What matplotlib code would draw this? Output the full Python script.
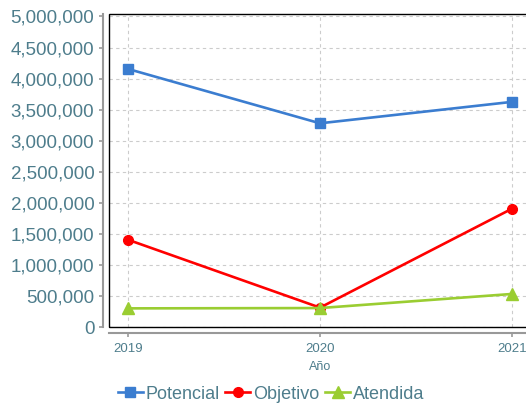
import numpy as np
import matplotlib.pyplot as plt
from matplotlib.patches import Rectangle
from matplotlib.ticker import FuncFormatter

plt.rcParams['font.family'] = ['Liberation Sans', 'DejaVu Sans']

anios = [2019, 2020, 2021]
potencial = [4155000, 3280000, 3625000]
objetivo = [1405000, 312000, 1905000]
atendida = [300000, 305000, 532000]

txt = '#4e7d8c'

fig = plt.figure(figsize=(5.26, 4.04), dpi=100)
ax = fig.add_axes([109/526, 77/404, 422/526, 313/404])

ax.plot(anios, potencial, color='#3b7dd0', lw=1.9, marker='s', ms=7, label='Potencial', clip_on=False, zorder=3)
ax.plot(anios, objetivo, color='#ff0000', lw=1.9, marker='o', ms=7, label='Objetivo', clip_on=False, zorder=3)
ax.plot(anios, atendida, color='#9acd32', lw=1.9, marker='^', ms=8, label='Atendida', clip_on=False, zorder=3)

ax.set_xlim(2019 - 19/192, 2021 + 19/192)
ax.set_ylim(0, 5040000)
ax.set_yticks(np.arange(0, 5000001, 500000))
ax.set_xticks(anios)
ax.yaxis.set_major_formatter(FuncFormatter(lambda v, p: f'{int(v):,}'))

ax.grid(True, color='#cccccc', lw=0.8, ls=(0, (3, 3)))
ax.set_axisbelow(True)

# marco negro del area de trazado
ax.add_patch(Rectangle((0, 0), 1, 1, transform=ax.transAxes, fill=False,
                       ec='black', lw=1.0, clip_on=False, zorder=4))
for s in ['top', 'right']:
    ax.spines[s].set_visible(False)
for s in ['left', 'bottom']:
    ax.spines[s].set_position(('outward', 4.5))
    ax.spines[s].set_color('#999999')
    ax.spines[s].set_linewidth(1.5)

ax.tick_params(axis='y', colors='#999999', labelcolor=txt, labelsize=13.5, length=3, width=1.2, pad=3)
ax.tick_params(axis='x', colors='#999999', labelcolor=txt, labelsize=9.5, length=3, width=1.2, pad=4)
ax.set_xlabel('Año', color=txt, fontsize=9, labelpad=4)

fig.legend(loc='center', bbox_to_anchor=(0.515, 0.024), ncol=3, frameon=False,
           fontsize=13, labelcolor=txt, handlelength=1.4, handletextpad=0.15,
           columnspacing=0.3, borderaxespad=0, borderpad=0)

fig.savefig('out.png', dpi=100)
